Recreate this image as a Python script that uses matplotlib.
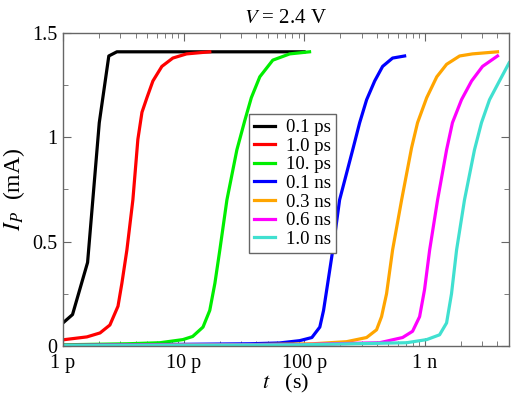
import numpy as np
import matplotlib
matplotlib.use("Agg")
import matplotlib.pyplot as plt
from matplotlib.ticker import FixedLocator, LogLocator, NullFormatter, MultipleLocator

plt.rcParams["font.family"] = ["Liberation Serif", "DejaVu Serif"]
plt.rcParams["mathtext.fontset"] = "stix"

# pulse widths (legend) and current curves I_P(t) in mA
labels = ["0.1 ps", "1.0 ps", "10. ps", "0.1 ns", "0.3 ns", "0.6 ns", "1.0 ns"]
colors = ["black", "red", "#00ee00", "blue", "orange", "magenta", "#40e0d0"]

t_01ps = [1e-12, 1.2e-12, 1.6e-12, 2.0e-12, 2.4e-12, 2.8e-12, 1e-10]
i_01ps = [0.11, 0.15, 0.40, 1.07, 1.39, 1.41, 1.41]

t_1ps = [1e-12, 1.58e-12, 2.03e-12, 2.45e-12, 2.86e-12, 3.08e-12, 3.39e-12, 3.80e-12,
         4.18e-12, 4.52e-12, 4.97e-12, 5.57e-12, 6.61e-12, 8.15e-12, 1.06e-11, 1.65e-11]
i_1ps = [0.029, 0.043, 0.062, 0.10, 0.19, 0.30, 0.46, 0.70,
         0.99, 1.12, 1.19, 1.27, 1.34, 1.38, 1.40, 1.41]

t_10ps = [1e-12, 3.39e-12, 6.37e-12, 9.87e-12, 1.19e-11, 1.45e-11, 1.65e-11, 1.82e-11,
          2.00e-11, 2.29e-11, 2.77e-11, 3.22e-11, 3.65e-11, 4.29e-11, 5.50e-11,
          7.60e-11, 1.11e-10]
i_10ps = [0.005, 0.01, 0.015, 0.03, 0.045, 0.09, 0.17, 0.30,
          0.46, 0.70, 0.94, 1.08, 1.19, 1.29, 1.37, 1.40, 1.41]

t_01ns = [1e-12, 5.26e-12, 3.54e-11, 6.28e-11, 9.20e-11, 1.16e-10, 1.35e-10, 1.45e-10,
          1.57e-10, 1.73e-10, 1.97e-10, 2.53e-10, 2.89e-10, 3.30e-10, 3.85e-10,
          4.48e-10, 5.42e-10, 6.82e-10]
i_01ns = [0.002, 0.006, 0.01, 0.014, 0.025, 0.04, 0.09, 0.17,
          0.30, 0.46, 0.70, 0.94, 1.07, 1.18, 1.27, 1.34, 1.38, 1.39]

t_03ns = [1e-12, 3.54e-11, 1.18e-10, 2.25e-10, 3.30e-10, 3.99e-10, 4.39e-10, 4.83e-10,
          5.42e-10, 6.44e-10, 7.79e-10, 8.73e-10, 1.04e-9, 1.26e-9, 1.52e-9, 1.95e-9,
          2.49e-9, 4.02e-9]
i_03ns = [0.002, 0.006, 0.01, 0.02, 0.04, 0.077, 0.14, 0.25,
          0.46, 0.70, 0.95, 1.07, 1.19, 1.29, 1.35, 1.39, 1.40, 1.41]

t_06ns = [1e-12, 9.20e-11, 4.23e-10, 6.56e-10, 7.94e-10, 9.08e-10, 9.98e-10, 1.10e-9,
          1.28e-9, 1.52e-9, 1.70e-9, 2.02e-9, 2.45e-9, 3.02e-9, 4.02e-9]
i_06ns = [0.002, 0.006, 0.015, 0.04, 0.07, 0.14, 0.27, 0.46,
          0.70, 0.94, 1.07, 1.18, 1.27, 1.34, 1.39]

t_1ns = [1e-12, 9.20e-11, 7.08e-10, 1.04e-9, 1.33e-9, 1.52e-9, 1.67e-9, 1.84e-9,
         2.14e-9, 2.59e-9, 2.96e-9, 3.45e-9, 4.17e-9, 5.05e-9, 6.1e-9]
i_1ns = [0.002, 0.005, 0.015, 0.03, 0.053, 0.11, 0.25, 0.46,
         0.70, 0.94, 1.07, 1.18, 1.27, 1.36, 1.39]

series = [(t_01ps, i_01ps), (t_1ps, i_1ps), (t_10ps, i_10ps), (t_01ns, i_01ns),
          (t_03ns, i_03ns), (t_06ns, i_06ns), (t_1ns, i_1ns)]

xticks = [1e-12, 1e-11, 1e-10, 1e-9]
xticklabels = ["1 p", "10 p", "100 p", "1 n"]
yticks = [0, 0.5, 1, 1.5]
yticklabels = ["0", "0.5", "1", "1.5"]

fig = plt.figure(figsize=(5.12, 3.98), dpi=100)
ax = fig.add_axes([0.123, 0.131, 0.871, 0.786])

for (t, i), c, lab in zip(series, colors, labels):
    ax.plot(t, i, color=c, lw=2.3, label=lab, solid_joinstyle="round")

ax.set_xscale("log")
ax.set_xlim(1e-12, 5e-9)
ax.set_ylim(0, 1.5)

ax.xaxis.set_major_locator(FixedLocator(xticks))
ax.set_xticklabels(xticklabels)
ax.xaxis.set_minor_locator(LogLocator(base=10, subs=np.arange(2, 10)))
ax.xaxis.set_minor_formatter(NullFormatter())
ax.set_yticks(yticks)
ax.set_yticklabels(yticklabels)
ax.yaxis.set_minor_locator(MultipleLocator(0.25))

frame = "#666666"
for s in ax.spines.values():
    s.set_color(frame)
    s.set_linewidth(1.0)
ax.tick_params(which="both", direction="in", top=True, right=True, color=frame,
               labelsize=14.5)
ax.tick_params(which="major", length=6, pad=4)
ax.tick_params(axis="x", which="major", pad=6)
ax.tick_params(which="minor", length=3.5)

ax.set_title(r"$V$ = 2.4 V", fontsize=15, pad=7)
ax.set_xlabel(r"$t$   (s)", fontsize=16, labelpad=-1)
ax.set_ylabel(r"$I_P$  (mA)", fontsize=17, labelpad=4)

leg = ax.legend(loc="upper left", bbox_to_anchor=(0.418, 0.74), fontsize=13.5,
                handlelength=1.1, handletextpad=0.6, borderpad=0.25,
                labelspacing=0.08, fancybox=False, framealpha=1, borderaxespad=0)
leg.get_frame().set_edgecolor(frame)
leg.get_frame().set_linewidth(1.0)

fig.savefig("out.png", dpi=100)
